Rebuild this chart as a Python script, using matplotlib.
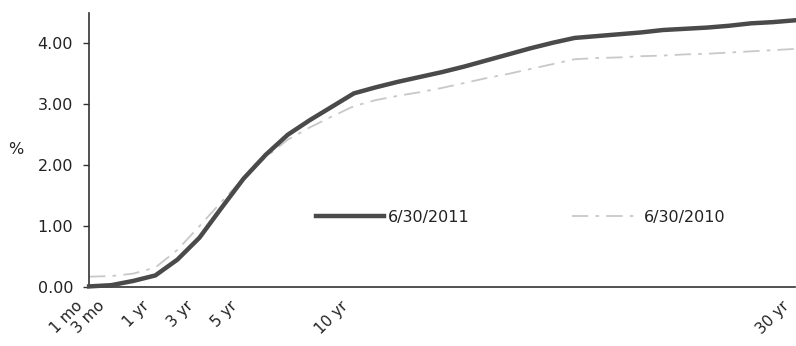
import matplotlib
matplotlib.use("Agg")
import matplotlib.pyplot as plt
from matplotlib.transforms import ScaledTranslation

plt.rcParams["font.family"] = ["DejaVu Sans"]

# maturities on an evenly spaced category axis
MATURITIES = ["1 mo", "3 mo", "6 mo"] + [f"{y} yr" for y in range(1, 31)]
SHOWN = {"1 mo", "3 mo", "1 yr", "3 yr", "5 yr", "10 yr", "30 yr"}

YIELD_2011 = [0.01, 0.03, 0.10, 0.19, 0.45, 0.81, 1.30, 1.78, 2.17, 2.50,
              2.74, 2.96, 3.18, 3.28, 3.37, 3.45, 3.53, 3.62, 3.72, 3.82,
              3.92, 4.01, 4.09, 4.12, 4.15, 4.18, 4.22, 4.24, 4.26, 4.29,
              4.33, 4.35, 4.38]
YIELD_2010 = [0.17, 0.18, 0.22, 0.32, 0.61, 1.00, 1.40, 1.79, 2.13, 2.42,
              2.62, 2.80, 2.97, 3.07, 3.14, 3.20, 3.27, 3.35, 3.43, 3.50,
              3.58, 3.66, 3.74, 3.76, 3.77, 3.79, 3.80, 3.82, 3.83, 3.85,
              3.87, 3.89, 3.91]
LABEL_2011 = "6/30/2011"
LABEL_2010 = "6/30/2010"

TEXT = "#222222"
AXIS = "#333333"
FS = 11.5

fig = plt.figure(figsize=(7.96, 3.46), dpi=100)
ax = fig.add_axes([0.112, 0.1705, 0.887, 0.792])

xs = range(len(MATURITIES))
ax.plot(xs, YIELD_2011, color="#4a4a4a", lw=3.2, solid_joinstyle="miter",
        label=LABEL_2011, clip_on=False, zorder=3)
ax.plot(xs, YIELD_2010, color="#c8c8c8", lw=1.3, dashes=(9, 4, 2, 4),
        label=LABEL_2010, clip_on=False, zorder=2)

ax.set_xlim(0, len(MATURITIES) - 1)
ax.set_ylim(0, 4.5)
ax.set_yticks([0, 1, 2, 3, 4])
ax.set_yticklabels([f"{v:.2f}" for v in [0, 1, 2, 3, 4]])

ax.set_xticks(list(xs))
ax.set_xticklabels([m if m in SHOWN else "" for m in MATURITIES],
                   rotation=45, ha="right", va="top", rotation_mode="anchor")
ax.tick_params(axis="x", length=0, pad=8, labelsize=11, labelcolor=TEXT)
ax.tick_params(axis="y", length=4.5, width=1, color=AXIS, labelsize=FS,
               labelcolor=TEXT, pad=7)

# nudge the slanted maturity labels left of their category
shift = ScaledTranslation(-14 / 100, 0, fig.dpi_scale_trans)
for lab in ax.get_xticklabels():
    lab.set_transform(lab.get_transform() + shift)

for side in ("top", "right"):
    ax.spines[side].set_visible(False)
for side in ("left", "bottom"):
    ax.spines[side].set_color(AXIS)
    ax.spines[side].set_linewidth(1.2)

ax.set_ylabel("%", rotation=0, fontsize=FS, color=TEXT, labelpad=16, va="center")

ax.legend(loc="center left", bbox_to_anchor=(316 / 796, 1 - 217 / 346),
          bbox_transform=fig.transFigure, ncol=2, frameon=False,
          handlelength=4.25, handletextpad=0.25, columnspacing=6.4,
          borderpad=0, borderaxespad=0, fontsize=FS, labelcolor=TEXT)

fig.savefig("out.png", dpi=100)
